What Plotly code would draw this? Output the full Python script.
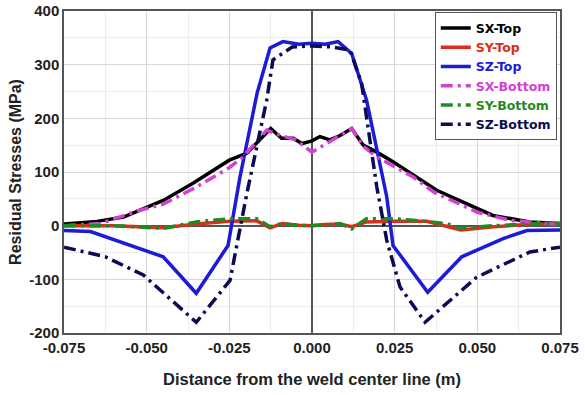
import plotly.graph_objects as go

# ---- data ----
sx_top_x = [-0.075, -0.065, -0.057, -0.045, -0.036, -0.025, -0.0197, -0.0125, -0.0092, -0.0057, -0.003, 0.0, 0.0024, 0.0054, 0.0085, 0.012, 0.0155, 0.0196, 0.0245, 0.0317, 0.0377, 0.0547, 0.0659, 0.075]
sx_top_y = [3, 8, 16, 47, 79, 122, 135, 181, 163, 163, 153, 158, 166, 160, 168, 181, 150, 137, 119, 91, 66, 19, 7, 4]

sy_top_x = [-0.075, -0.06, -0.045, -0.035, -0.025, -0.0167, -0.0127, -0.009, -0.004, 0.0, 0.004, 0.0085, 0.012, 0.0165, 0.0245, 0.0347, 0.045, 0.055, 0.065, 0.075]
sy_top_y = [0, 0, -4, 3, 8, 9, -4, 4, 1, 0, 2, 3, -2, 7, 8, 8, -8, -2, 2, 3]

sz_top_x = [-0.075, -0.067, -0.045, -0.035, -0.0254, -0.0218, -0.0166, -0.0127, -0.0088, -0.004, 0.0, 0.004, 0.0079, 0.012, 0.0165, 0.0226, 0.0245, 0.035, 0.0453, 0.0578, 0.065, 0.075]
sz_top_y = [-9, -11, -58, -126, -37, 90, 247, 331, 343, 338, 340, 338, 343, 321, 234, 54, -37, -124, -58, -24, -9, -8]

sx_bot_x = [-0.075, -0.064, -0.052, -0.045, -0.035, -0.025, -0.0209, -0.0137, -0.0095, -0.005, 0.0, 0.0075, 0.012, 0.0155, 0.0196, 0.0305, 0.037, 0.05, 0.06, 0.075]
sx_bot_y = [0, 4, 29, 40, 72, 108, 128, 178, 168, 160, 137, 165, 181, 148, 128, 91, 62, 25, 10, 2]

sy_bot_x = [-0.075, -0.06, -0.045, -0.035, -0.0248, -0.0167, -0.0127, -0.009, -0.004, 0.0, 0.004, 0.0085, 0.012, 0.0165, 0.0245, 0.0305, 0.0407, 0.0448, 0.055, 0.065, 0.075]
sy_bot_y = [0, 0, -5, 7, 13, 13, -2, 4, 0, 0, 1, 4, -6, 13, 13, 10, 4, -5, 0, 3, 4]

sz_bot_x = [-0.075, -0.0625, -0.051, -0.035, -0.0248, -0.0197, -0.0137, -0.0118, -0.006, 0.0, 0.006, 0.0115, 0.015, 0.0196, 0.0226, 0.0266, 0.0342, 0.0498, 0.0659, 0.075]
sz_bot_y = [-40, -58, -92, -180, -102, 60, 234, 309, 333, 335, 333, 327, 265, 72, -27, -114, -180, -96, -49, -40]

x_tick_vals = [-0.075, -0.05, -0.025, 0.0, 0.025, 0.05, 0.075]
x_tick_text = ["-0.075", "-0.050", "-0.025", "0.000", "0.025", "0.050", "0.075"]
y_tick_vals = [-200, -100, 0, 100, 200, 300, 400]
y_tick_text = ["-200", "-100", "0", "100", "200", "300", "400"]

series = [
    ("SX-Top", sx_top_x, sx_top_y, "#000000", "solid"),
    ("SY-Top", sy_top_x, sy_top_y, "#e02a1e", "solid"),
    ("SZ-Top", sz_top_x, sz_top_y, "#1c1cd6", "solid"),
    ("SX-Bottom", sx_bot_x, sx_bot_y, "#d43fd4", "12px,5px,3px,5px"),
    ("SY-Bottom", sy_bot_x, sy_bot_y, "#1f8a1f", "12px,5px,3px,5px"),
    ("SZ-Bottom", sz_bot_x, sz_bot_y, "#0c0c55", "12px,5px,3px,5px"),
]

fig = go.Figure()
for name, xs, ys, col, dash in series:
    fig.add_trace(go.Scatter(
        x=xs, y=ys, mode="lines",
        name=f"<span style='color:{col}'><b>{name}</b></span>",
        line=dict(color=col, width=3.5, dash=dash),
    ))

font = "Liberation Sans, Arial, sans-serif"
fig.update_layout(
    width=585, height=395,
    margin=dict(l=64, r=25, t=11, b=62, autoexpand=False),
    paper_bgcolor="white", plot_bgcolor="white",
    font=dict(family=font, size=15, color="#222222"),
    legend=dict(
        x=0.9935, y=0.996, xanchor="right", yanchor="top",
        bgcolor="white", bordercolor="#555555", borderwidth=1,
        font=dict(family="DejaVu Sans, sans-serif", size=12.5),
        tracegroupgap=0, itemwidth=30,
    ),
    showlegend=True,
)
fig.update_xaxes(
    range=[-0.075, 0.075], tickvals=x_tick_vals, ticktext=x_tick_text,
    showgrid=True, gridcolor="#d6d6d6", gridwidth=1,
    minor=dict(dtick=0.0125, tick0=0, showgrid=True, gridcolor="#ededed"),
    zeroline=True, zerolinecolor="#555555", zerolinewidth=1.5,
    showline=True, linecolor="#555555", linewidth=1.5, mirror=True,
    ticks="", automargin=False,
    tickfont=dict(family=font, size=15, color="#222222", weight="bold"),
    title=dict(text="Distance from the weld center line (m)",
               font=dict(family=font, size=16.5, color="#222222", weight="bold"), standoff=19),
)
fig.update_yaxes(
    range=[-200, 400], tickvals=y_tick_vals, ticktext=y_tick_text,
    showgrid=True, gridcolor="#d6d6d6", gridwidth=1,
    minor=dict(dtick=50, tick0=0, showgrid=True, gridcolor="#ededed"),
    zeroline=True, zerolinecolor="#555555", zerolinewidth=1.5,
    showline=True, linecolor="#555555", linewidth=1.5, mirror=True,
    ticks="", automargin=False,
    tickfont=dict(family=font, size=15, color="#222222", weight="bold"),
    title=dict(text="Residual Stresses (MPa)",
               font=dict(family=font, size=16, color="#222222", weight="bold"), standoff=4),
)

fig.write_html("out.html", config={"displayModeBar": False},
               post_script="document.body.style.margin='0';")
